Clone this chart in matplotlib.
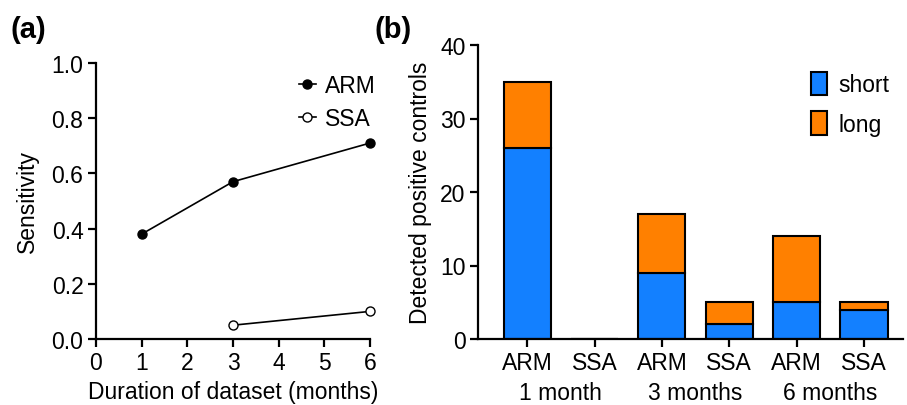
import matplotlib
matplotlib.use("Agg")
import matplotlib.pyplot as plt
from matplotlib.lines import Line2D
import numpy as np

plt.rcParams['font.family'] = ['Liberation Sans', 'DejaVu Sans']

# panel (a) data
months_arm = [1, 3, 6]
sens_arm = [0.38, 0.57, 0.71]
months_ssa = [3, 6]
sens_ssa = [0.05, 0.10]

# panel (b) data
bar_labels = ["ARM", "SSA", "ARM", "SSA", "ARM", "SSA"]
group_labels = ["1 month", "3 months", "6 months"]
short_counts = [26, 0, 9, 2, 5, 4]
long_counts = [9, 0, 8, 3, 9, 1]

blue = "#1380ff"
orange = "#ff8000"
fs = 16.5
lw_spine = 1.6

fig = plt.figure(figsize=(9.07, 4.06), dpi=100)

def style(ax):
    for s in ["top", "right"]:
        ax.spines[s].set_visible(False)
    for s in ["left", "bottom"]:
        ax.spines[s].set_linewidth(lw_spine)
    ax.tick_params(direction="out", length=6, width=lw_spine, labelsize=fs, pad=3)

# (a)
ax1 = fig.add_axes([96/907, 1-340/406, 274/907, 276/406])
ax1.plot(months_arm, sens_arm, "-o", color="black", lw=1.2, ms=6.5,
         mfc="black", mec="black", clip_on=False)
ax1.plot(months_ssa, sens_ssa, "-o", color="black", lw=1.2, ms=6.5,
         mfc="white", mec="black", mew=1.0, clip_on=False)
ax1.set_xlim(0, 6)
ax1.set_ylim(0, 1.0)
ax1.set_xticks(range(0, 7))
ax1.set_yticks(np.arange(0, 1.01, 0.2))
ax1.set_yticklabels([f"{v:.1f}" for v in np.arange(0, 1.01, 0.2)])
ax1.set_xlabel("Duration of dataset (months)", fontsize=fs, labelpad=4)
ax1.set_ylabel("Sensitivity", fontsize=fs, labelpad=9)
style(ax1)
handles = [Line2D([0], [0], color="black", lw=1.2, marker="o", ms=6.5, mfc="black"),
           Line2D([0], [0], color="black", lw=1.2, marker="o", ms=6.5, mfc="white", mew=1.0)]
ax1.legend(handles, ["ARM", "SSA"], loc="upper right", bbox_to_anchor=(1.07, 1.01),
           frameon=False, fontsize=fs, handlelength=0.7, handletextpad=0.4,
           labelspacing=0.45, borderaxespad=0.2)
fig.text(10/907, 1-30/406, "(a)", fontsize=21, fontweight="bold", va="center")

# (b)
ax2 = fig.add_axes([478/907, 1-340/406, 425/907, 294/406])
x = np.arange(1, len(bar_labels) + 1)
w = 0.70
ax2.bar(x, short_counts, w, color=blue, edgecolor="black", lw=1.5, label="short")
ax2.bar(x, long_counts, w, bottom=short_counts, color=orange, edgecolor="black",
        lw=1.5, label="long")
ax2.set_xlim(0.27, 6.58)
ax2.set_ylim(0, 40)
ax2.set_yticks([0, 10, 20, 30, 40])
ax2.set_xticks(x)
ax2.set_xticklabels(bar_labels)
ax2.set_ylabel("Detected positive controls", fontsize=fs, labelpad=6)
style(ax2)
for i, g in enumerate(group_labels):
    ax2.text(1.5 + 2 * i, -7.3, g, ha="center", va="center", fontsize=fs)
ax2.legend(loc="upper right", bbox_to_anchor=(1.0, 0.955), frameon=False,
           fontsize=fs, handlelength=0.7, handleheight=1.2, handletextpad=0.5,
           labelspacing=0.65, borderaxespad=0.2)
fig.text(375/907, 1-30/406, "(b)", fontsize=21, fontweight="bold", va="center")

fig.savefig("out.png", dpi=100)
